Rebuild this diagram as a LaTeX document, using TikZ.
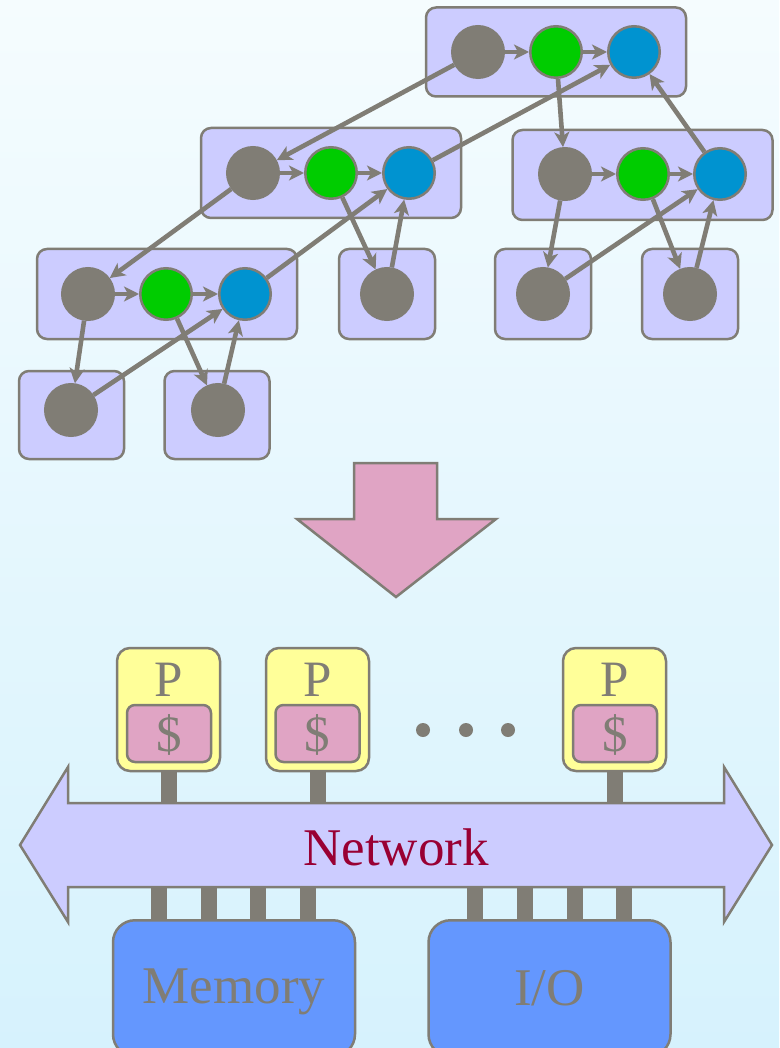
\documentclass[tikz,border=0pt]{standalone}
\usepackage{fontspec}
\setmainfont{Liberation Serif}
\usetikzlibrary{arrows.meta}
\definecolor{mygray}{RGB}{128,125,117}
\definecolor{boxblue}{RGB}{204,204,255}
\definecolor{mygreen}{RGB}{0,204,0}
\definecolor{myblue}{RGB}{0,147,208}
\definecolor{mypink}{RGB}{224,164,196}
\definecolor{myyellow}{RGB}{255,255,153}
\definecolor{memblue}{RGB}{100,151,254}
\definecolor{netred}{RGB}{153,0,51}
\definecolor{bgtop}{RGB}{245,252,254}
\definecolor{bgbot}{RGB}{214,242,253}
\tikzset{
  grp/.style={rectangle, rounded corners=10pt, fill=boxblue, draw=mygray, line width=2.5pt, inner sep=0pt},
  gnode/.style={circle, fill=mygray, draw=mygray, line width=2.5pt, minimum size=51.5pt, inner sep=0pt},
  grnode/.style={gnode, fill=mygreen},
  blnode/.style={gnode, fill=myblue},
  edge/.style={draw=mygray, line width=4.6pt, -{Stealth[length=15pt,width=15pt,inset=4pt]}},
  pbox/.style={rectangle, rounded corners=13pt, fill=myyellow, draw=mygray, line width=2.5pt, minimum width=103pt, minimum height=123pt, inner sep=0pt},
  cbox/.style={rectangle, rounded corners=8pt, fill=mypink, draw=mygray, line width=2.5pt, minimum width=84pt, minimum height=57pt, inner sep=0pt},
  bigbox/.style={rectangle, rounded corners=22pt, fill=memblue, draw=mygray, line width=2.5pt, minimum width=242pt, minimum height=136pt, inner sep=0pt, anchor=north},
  stub/.style={draw=mygray, line width=16pt},
  lbl/.style={text=mygray, font=\fontsize{51}{60}\selectfont, inner sep=0pt, anchor=base},
  biglbl/.style={text=mygray, font=\fontsize{53}{62}\selectfont, inner sep=0pt, anchor=base},
  dotn/.style={circle, fill=mygray, minimum size=14pt, inner sep=0pt}
}
\begin{document}
\begin{tikzpicture}[x=1pt,y=-1pt]
\useasboundingbox (0,0) rectangle (779,1048);
\shade[top color=bgtop, bottom color=bgbot] (0,0) rectangle (779,1048);

% group boxes
\node[grp, minimum width=260pt, minimum height=89pt] (T) at (556,52) {};
\node[grp, minimum width=260pt, minimum height=90pt] (A) at (331,173) {};
\node[grp, minimum width=260pt, minimum height=90pt] (B) at (642.5,175) {};
\node[grp, minimum width=260pt, minimum height=90pt] (C) at (167,294) {};
\node[grp, minimum width=96pt, minimum height=90pt] (D) at (387,294) {};
\node[grp, minimum width=96pt, minimum height=90pt] (E) at (543,294) {};
\node[grp, minimum width=96pt, minimum height=90pt] (F) at (690,294) {};
\node[grp, minimum width=105pt, minimum height=88pt] (G) at (71.5,415) {};
\node[grp, minimum width=105pt, minimum height=88pt] (H) at (217,415) {};

% task nodes
\node[gnode] (t1) at (478,52) {};
\node[grnode] (t2) at (556,52) {};
\node[blnode] (t3) at (634,52) {};
\node[gnode] (a1) at (253,173) {};
\node[grnode] (a2) at (331,173) {};
\node[blnode] (a3) at (409,173) {};
\node[gnode] (b1) at (565,174) {};
\node[grnode] (b2) at (643,174) {};
\node[blnode] (b3) at (720,174) {};
\node[gnode] (c1) at (88,294) {};
\node[grnode] (c2) at (166,294) {};
\node[blnode] (c3) at (245,294) {};
\node[gnode] (d) at (387,294) {};
\node[gnode] (e) at (543,294) {};
\node[gnode] (f) at (690,294) {};
\node[gnode] (g) at (71,410) {};
\node[gnode] (h) at (218,410) {};

% edges
\draw[edge] (t1) -- (t2);
\draw[edge] (t2) -- (t3);
\draw[edge] (a1) -- (a2);
\draw[edge] (a2) -- (a3);
\draw[edge] (b1) -- (b2);
\draw[edge] (b2) -- (b3);
\draw[edge] (c1) -- (c2);
\draw[edge] (c2) -- (c3);
\draw[edge] (t1) -- (a1);
\draw[edge] (t2) -- (b1);
\draw[edge] (a3) -- (t3);
\draw[edge] (b3) -- (t3);
\draw[edge] (a1) -- (c1);
\draw[edge] (c3) -- (a3);
\draw[edge] (a2) -- (d);
\draw[edge] (d) -- (a3);
\draw[edge] (b1) -- (e);
\draw[edge] (e) -- (b3);
\draw[edge] (b2) -- (f);
\draw[edge] (f) -- (b3);
\draw[edge] (c1) -- (g);
\draw[edge] (g) -- (c3);
\draw[edge] (c2) -- (h);
\draw[edge] (h) -- (c3);

% big down arrow
\draw[fill=mypink, draw=mygray, line width=2.5pt, line join=miter]
  (354,463) -- (437,463) -- (437,519) -- (496,519) -- (396,597) -- (297,519) -- (354,519) -- cycle;

% processors
\node[pbox] (P1) at (168.5,709.5) {};
\node[pbox] (P2) at (317.5,709.5) {};
\node[pbox] (P3) at (614.5,709.5) {};
\coordinate (nettop) at (396,803);
\coordinate (netbot) at (396,887);
\draw[stub] (P1.south) -- (P1.south |- nettop);
\draw[stub] (P2.south) -- (P2.south |- nettop);
\draw[stub] (P3.south) -- (P3.south |- nettop);
\node[cbox] (C1) at (169,733.5) {};
\node[cbox] (C2) at (317.5,733.5) {};
\node[cbox] (C3) at (615,733.5) {};
\node[lbl] (p1t) at (168.5,696) {P};
\node[lbl] (p2t) at (317.5,696) {P};
\node[lbl] (p3t) at (614.5,696) {P};
\node[lbl] (c1t) at (169,751) {\$};
\node[lbl] (c2t) at (317.5,751) {\$};
\node[lbl] (c3t) at (615,751) {\$};
\node[dotn] (dot1) at (423,730) {};
\node[dotn] (dot2) at (466,730) {};
\node[dotn] (dot3) at (508,730) {};

% memory and I/O
\node[bigbox] (mem) at (234,919) {};
\node[bigbox] (io) at (549.5,919) {};
\foreach \x [count=\i] in {158.5,209,258,307.5} {
  \coordinate (m\i) at (\x,887);
  \draw[stub] (m\i) -- (m\i |- mem.north);
}
\foreach \x [count=\i] in {475,525,574.5,624} {
  \coordinate (o\i) at (\x,887);
  \draw[stub] (o\i) -- (o\i |- io.north);
}
\node[biglbl] (memt) at (234,1003) {Memory};
\node[biglbl] (iot) at (549.5,1005) {I/O};

% network
\draw[fill=boxblue, draw=mygray, line width=2.5pt, line join=miter]
  (20,845) -- (68,767) -- (68,803) -- (724,803) -- (724,767) -- (772,845)
  -- (724,922) -- (724,887) -- (68,887) -- (68,922) -- cycle;
\node[biglbl, text=netred] (net) at (396,865) {Network};
\end{tikzpicture}
\end{document}
